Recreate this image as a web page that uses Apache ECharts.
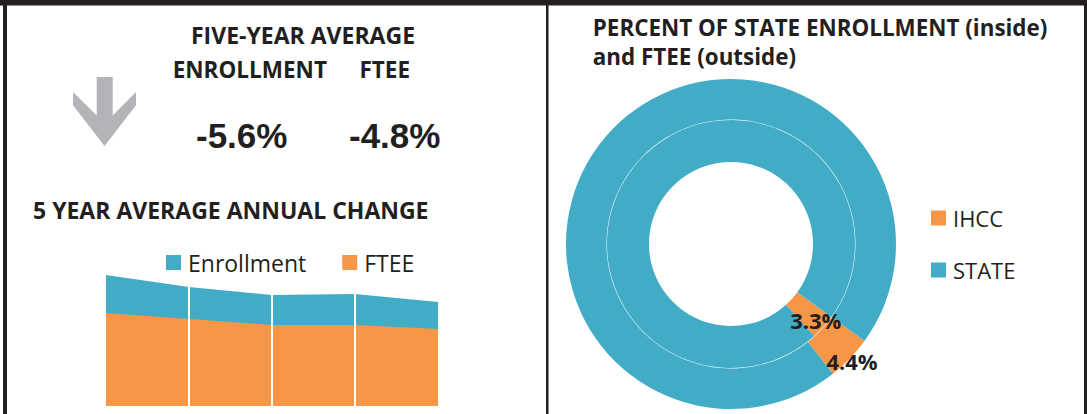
<!DOCTYPE html>
<html>
<head>
<meta charset="utf-8">
<style>
  html, body { margin: 0; padding: 0; background: #ffffff; }
  #chart { width: 1087px; height: 414px; }
</style>
<script src="https://cdn.jsdelivr.net/npm/echarts@6/dist/echarts.min.js"></script>
</head>
<body>
<div id="chart"></div>
<script>
// area chart (headcount vs FTEE, thousands, 5 years)
const years = ["Y1", "Y2", "Y3", "Y4", "Y5"];
const enrollment = [13.1, 11.9, 11.1, 11.2, 10.4];
const ftee = [9.3, 8.7, 8.1, 8.1, 7.7];

// headline figures
const headlineLabels = ["ENROLLMENT", "FTEE"];
const headlineValues = [-5.6, -4.8];

// share of state, percent (inner ring = enrollment, outer ring = FTEE)
const shareNames = ["IHCC", "STATE"];
const enrollmentShare = [3.3, 96.7];
const fteeShare = [4.4, 95.6];

const TEAL = "#42acc7";
const ORANGE = "#f79646";
const INK = "#231f20";
const FONT = "'Open Sans', 'Noto Sans', sans-serif";
const sliceColors = { IHCC: ORANGE, STATE: TEAL };

const chart = echarts.init(document.getElementById("chart"), null, { renderer: "svg" });

function ringData(values, transparent) {
  return shareNames.map((name, i) => ({
    name,
    value: values[i],
    itemStyle: { color: transparent ? "rgba(0,0,0,0)" : sliceColors[name] },
    label: { show: transparent && name === "IHCC" },
  }));
}

function ringSeries(radius, values, labelOnly) {
  return {
    type: "pie",
    center: [731, 244],
    radius,
    startAngle: -36,
    clockwise: true,
    silent: true,
    avoidLabelOverlap: false,
    emphasis: { disabled: true },
    itemStyle: { borderWidth: 0 },
    label: {
      show: false,
      position: "inside",
      formatter: (p) => p.value.toFixed(1) + "%",
      color: INK,
      fontFamily: FONT,
      fontWeight: "bold",
      fontSize: 22,
    },
    labelLine: { show: false },
    data: ringData(values, labelOnly),
  };
}

function textEl(text, x, y, size, weight, family) {
  return {
    type: "text",
    x,
    y,
    silent: true,
    style: {
      text,
      font: `${weight} ${size}px ${family || FONT}`,
      fill: INK,
      textAlign: "left",
      textVerticalAlign: "middle",
    },
  };
}

const fmtPct = (v) => v.toFixed(1) + "%";

chart.setOption({
  animation: false,
  backgroundColor: "#ffffff",
  graphic: [
    { type: "rect", shape: { x: 0, y: 0, width: 1087, height: 5.5 }, style: { fill: INK } },
    { type: "rect", shape: { x: 3, y: 0, width: 4, height: 414 }, style: { fill: INK } },
    { type: "rect", shape: { x: 546, y: 0, width: 2.5, height: 414 }, style: { fill: INK } },
    { type: "rect", shape: { x: 1084, y: 0, width: 3, height: 414 }, style: { fill: INK } },
    {
      type: "polygon",
      shape: {
        points: [
          [96.7, 77], [112.7, 77], [112.7, 115.4], [136, 92], [136, 105.3],
          [104.5, 146], [73, 105.3], [73, 92], [96.7, 115.4],
        ],
      },
      style: { fill: "#b2b4b7" },
    },
    textEl("FIVE-YEAR AVERAGE", 191, 35, 23, "bold"),
    textEl(headlineLabels[0], 172.7, 69.5, 22.5, "bold"),
    textEl(headlineLabels[1], 359.4, 69.5, 22.5, "bold"),
    textEl(fmtPct(headlineValues[0]), 196, 135.3, 35, "bold", "'Liberation Sans', Arial, sans-serif"),
    textEl(fmtPct(headlineValues[1]), 349, 135.3, 35, "bold", "'Liberation Sans', Arial, sans-serif"),
    textEl("5 YEAR AVERAGE ANNUAL CHANGE", 33, 210, 23, "bold"),
    textEl("PERCENT OF STATE ENROLLMENT (inside)", 592.8, 27.3, 22.4, "bold"),
    textEl("and FTEE (outside)", 592.8, 56.7, 22.4, "bold"),
  ],
  legend: [
    {
      data: ["Enrollment", "FTEE"],
      left: 161,
      top: 246,
      z: 10,
      icon: "rect",
      itemWidth: 15,
      itemHeight: 15,
      itemGap: 36,
      selectedMode: false,
      textStyle: { color: INK, fontFamily: FONT, fontSize: 23, padding: [0, 0, 0, 2] },
    },
    {
      data: shareNames,
      orient: "vertical",
      left: 926,
      top: 202,
      icon: "rect",
      itemWidth: 15,
      itemHeight: 15,
      itemGap: 30,
      selectedMode: false,
      textStyle: { color: INK, fontFamily: FONT, fontSize: 22, lineHeight: 22, padding: [0, 0, 0, 2] },
    },
  ],
  grid: { left: 106, width: 332, top: 266, height: 140 },
  xAxis: {
    type: "category",
    data: years,
    boundaryGap: false,
    z: 5,
    axisLine: { show: false },
    axisTick: { show: false },
    axisLabel: { show: false },
    splitLine: {
      show: true,
      interval: (i) => i > 0 && i < years.length - 1,
      lineStyle: { color: "#ffffff", width: 2 },
    },
  },
  yAxis: {
    type: "value",
    min: 0,
    max: 14,
    show: false,
    splitLine: { show: false },
  },
  series: [
    {
      name: "Enrollment",
      type: "line",
      data: enrollment,
      showSymbol: false,
      silent: true,
      lineStyle: { width: 0 },
      itemStyle: { color: TEAL },
      areaStyle: { color: TEAL, opacity: 1 },
      z: 2,
    },
    {
      name: "FTEE",
      type: "line",
      data: ftee,
      showSymbol: false,
      silent: true,
      lineStyle: { width: 0 },
      itemStyle: { color: ORANGE },
      areaStyle: { color: ORANGE, opacity: 1 },
      z: 3,
    },
    ringSeries([82, 124], enrollmentShare, false),
    ringSeries([124.5, 165], fteeShare, false),
    ringSeries([101, 121], enrollmentShare, true),
    ringSeries([155, 175], fteeShare, true),
  ],
});
</script>
</body>
</html>
